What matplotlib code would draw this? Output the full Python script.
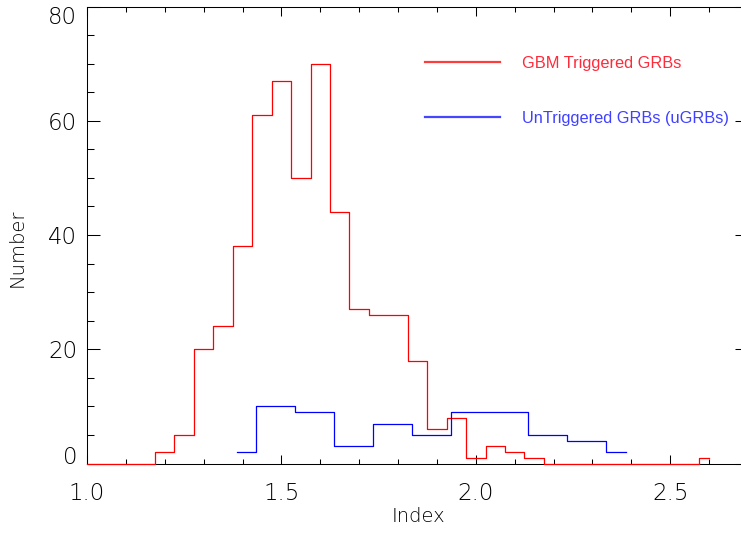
import numpy as np
import matplotlib
matplotlib.use("Agg")
import matplotlib.pyplot as plt
from matplotlib.ticker import MultipleLocator, FixedLocator
from matplotlib.lines import Line2D

# ---- data ----
red_centers = np.round(np.arange(1.0, 2.6001, 0.05), 3)
red_counts = [0, 0, 0, 0, 2, 5, 20, 24, 38, 61, 67, 50, 70, 44, 27, 26, 26,
              18, 6, 8, 1, 3, 2, 1, 0, 0, 0, 0, 0, 0, 0, 0, 1]
blue_centers = np.round(np.arange(1.385, 2.3851, 0.1), 3)
blue_counts = [2, 10, 9, 3, 7, 5, 9, 9, 5, 4, 2]
labels = ["GBM Triggered GRBs", "UnTriggered GRBs (uGRBs)"]
x_major = [1.0, 1.5, 2.0, 2.5]
y_major = [0, 20, 40, 60, 80]

W, H = 741, 533
fig = plt.figure(figsize=(W / 100, H / 100), dpi=100)
L, R, T, B = 87, 748, 6.5, 463.5
ax = fig.add_axes([L / W, (H - B) / H, (R - L) / W, (B - T) / H])

ax.step(red_centers, red_counts, where="mid", color="red", lw=0.9, clip_on=False, zorder=3)
ax.step(blue_centers, blue_counts, where="mid", color="blue", lw=0.9, zorder=3)

ax.set_xlim(1.0, 2.7)
ax.set_ylim(0, 80)

ax.xaxis.set_major_locator(FixedLocator(x_major))
ax.xaxis.set_minor_locator(MultipleLocator(0.1))
ax.yaxis.set_major_locator(FixedLocator(y_major))
ax.yaxis.set_minor_locator(MultipleLocator(5))
ax.set_xticklabels([f"{v:.1f}" for v in x_major])
ax.set_yticklabels([str(v) for v in y_major])

for s in ax.spines.values():
    s.set_linewidth(0.75)
    s.set_color("black")

ax.tick_params(axis="x", which="both", direction="in", top=True, bottom=True, width=0.75)
ax.tick_params(axis="y", which="both", direction="in", left=True, right=True, width=0.75)
ax.tick_params(axis="x", which="major", length=6.5, pad=13.5)
ax.tick_params(axis="x", which="minor", length=3.3)
ax.tick_params(axis="y", which="major", length=9.4, pad=7)
ax.tick_params(axis="y", which="minor", length=4.8)

tick_font = dict(family="DejaVu Sans", weight="light", size=16.5)
for lab in ax.get_xticklabels() + ax.get_yticklabels():
    lab.set_fontproperties(matplotlib.font_manager.FontProperties(**tick_font))
ylabs = ax.get_yticklabels()
ylabs[0].set_va("baseline")
ylabs[-1].set_va("top")

ax.set_xlabel("Index", fontsize=14, family="DejaVu Sans", weight="light")
ax.xaxis.label.set_va("baseline")
ax.xaxis.set_label_coords((418 - L) / (R - L), (B - 522) / (B - T))
ax.set_ylabel("Number", fontsize=14, family="DejaVu Sans", weight="light")
ax.yaxis.label.set_va("center")
ax.yaxis.set_label_coords((17 - L) / (R - L), (B - 248) / (B - T))

# legend (line + coloured text)
handles = [Line2D([], [], color="#ff3c3c", lw=1.6), Line2D([], [], color="#4646ff", lw=1.6)]
leg = ax.legend(handles, labels, loc="upper left",
                bbox_to_anchor=((425 - L) / (R - L), (B - 56) / (B - T)),
                frameon=False, borderpad=0, borderaxespad=0,
                handlelength=4.6, handletextpad=1.3, labelspacing=2.45,
                prop=dict(family="Liberation Sans", size=11.8))
for txt, c in zip(leg.get_texts(), ["#ff2a3a", "#4040ff"]):
    txt.set_color(c)

fig.savefig("out.png", dpi=100)
